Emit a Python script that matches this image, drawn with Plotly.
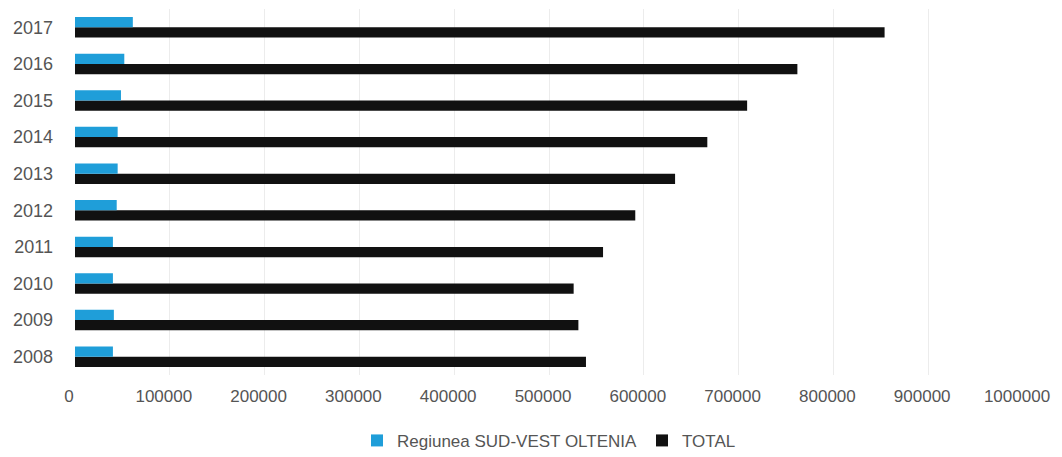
import plotly.graph_objects as go

years = ["2008", "2009", "2010", "2011", "2012", "2013", "2014", "2015", "2016", "2017"]
regiunea = [40000, 41000, 40000, 40000, 44000, 45000, 45000, 48500, 52000, 61000]
total = [539000, 531000, 526000, 557000, 591000, 633000, 667000, 709000, 762000, 854000]
x_ticks = [0, 100000, 200000, 300000, 400000, 500000, 600000, 700000, 800000, 900000, 1000000]

font_family = "Liberation Sans, Arial, sans-serif"
text_color = "#555555"

fig = go.Figure()
fig.add_trace(go.Bar(
    y=years, x=total, orientation="h", name="TOTAL",
    marker=dict(color="#111111", line=dict(width=0)), legendrank=2,
))
fig.add_trace(go.Bar(
    y=years, x=regiunea, orientation="h", name="Regiunea SUD-VEST OLTENIA",
    marker=dict(color="#1F9ED9", line=dict(width=0)), legendrank=1,
))

# page body adds an 8px offset, so the figure is smaller than the window
fig.update_layout(
    width=1054, height=449,
    barmode="group", bargap=0.44, bargroupgap=0,
    plot_bgcolor="white", paper_bgcolor="white",
    margin=dict(l=67, r=39, t=1, b=82, autoexpand=False),
    font=dict(family=font_family, color=text_color, size=17),
    xaxis=dict(
        range=[0, 1000000], tickvals=x_ticks, ticktext=[str(v) for v in x_ticks],
        showgrid=True, gridcolor="#ececec", gridwidth=1, zeroline=False,
        showline=False, ticks="", tickfont=dict(size=17, color=text_color),
        automargin=False, ticklabelstandoff=9, ticklabelshift=-6,
    ),
    yaxis=dict(
        type="category", showgrid=False, showline=False, ticks="",
        ticklabelstandoff=21, tickfont=dict(size=18, color=text_color),
        automargin=False,
    ),
    legend=dict(
        orientation="h", x=0.5, xanchor="center", y=-0.18, yanchor="middle",
        font=dict(size=17, color=text_color), itemwidth=30,
    ),
)

fig.write_html("out.html")
